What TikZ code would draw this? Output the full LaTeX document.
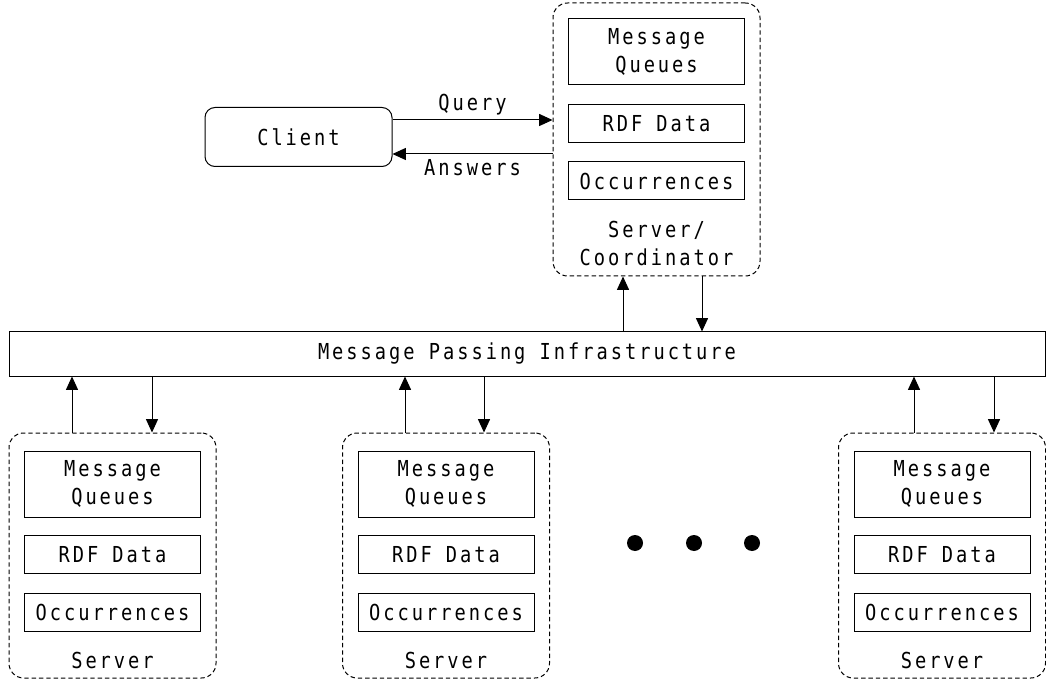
\documentclass[tikz,border=0pt]{standalone}
\usepackage{fontspec}
\newfontfamily\diagfont{DejaVu Sans Mono}[FakeStretch=0.85, LetterSpace=13.5]
\usetikzlibrary{arrows.meta,calc}
\begin{document}
\begin{tikzpicture}[x=0.75pt,y=-0.75pt,
  font=\diagfont\fontsize{16.5}{21.5}\selectfont,
  every node/.style={inner sep=0pt, align=center},
  part/.style={draw, line width=0.75pt, minimum width=0.75pt*176},
  host/.style={draw, dashed, dash pattern=on 3.3pt off 2.2pt, line width=0.75pt,
    rounded corners=11pt, minimum width=0.75pt*207},
  client/.style={draw, line width=0.75pt, rounded corners=7.5pt,
    minimum width=0.75pt*187, minimum height=0.75pt*59},
  bus/.style={draw, line width=0.75pt, minimum width=0.75pt*1036, minimum height=0.75pt*44},
  arr/.style={-{Triangle[length=10pt,width=9pt]}, line width=0.75pt},
  dot/.style={circle, fill, minimum size=12pt}]
\useasboundingbox (0,0) rectangle (1046,684);

% client and coordinator
\node[client] (client) at (298.5,137) {Client};
\node[host, minimum height=0.75pt*273] (coord) at (656.5,139.5) {};
\node[part, minimum height=0.75pt*66] (cmq) at (656.5,52) {Message\\Queues};
\node[part, minimum height=0.75pt*38] (crdf) at (656.5,123.5) {RDF Data};
\node[part, minimum height=0.75pt*38] (cocc) at (656.5,181) {Occurrences};
\node (clabel) at (656.5,243.5) {Server/\\Coordinator};

\coordinate (qy) at (0,120);
\coordinate (ay) at (0,154);
\draw[arr] (client.east |- qy) -- node[above=3pt] (qlabel) {Query} (coord.west |- qy);
\draw[arr] (coord.west |- ay) -- node[below=4pt] (alabel) {Answers} (client.east |- ay);

% message bus
\node[bus] (bus) at (527,354) {Message Passing Infrastructure};
\coordinate (cu) at (623,0);
\coordinate (cd) at (702,0);
\draw[arr] (bus.north -| cu) -- (coord.south -| cu);
\draw[arr] (coord.south -| cd) -- (bus.north -| cd);

% servers
\foreach \n/\cx/\ux/\dx in {1/112.5/72/152, 2/446/405/484, 3/942/914/994}{
  \node[host, minimum height=0.75pt*245] (s\n) at (\cx,555.5) {};
  \node[part, minimum height=0.75pt*66] (s\n mq) at (\cx,484) {Message\\Queues};
  \node[part, minimum height=0.75pt*38] (s\n rdf) at (\cx,554.5) {RDF Data};
  \node[part, minimum height=0.75pt*38] (s\n occ) at (\cx,612.5) {Occurrences};
  \node (s\n label) at (\cx,660) {Server};
  \coordinate (s\n u) at (\ux,0);
  \coordinate (s\n d) at (\dx,0);
  \draw[arr] (s\n.north -| s\n u) -- (bus.south -| s\n u);
  \draw[arr] (bus.south -| s\n d) -- (s\n.north -| s\n d);
}

% ellipsis between servers
\node[dot] (d1) at (635,543) {};
\node[dot] (d2) at (694,543) {};
\node[dot] (d3) at (752,543) {};
\end{tikzpicture}
\end{document}
